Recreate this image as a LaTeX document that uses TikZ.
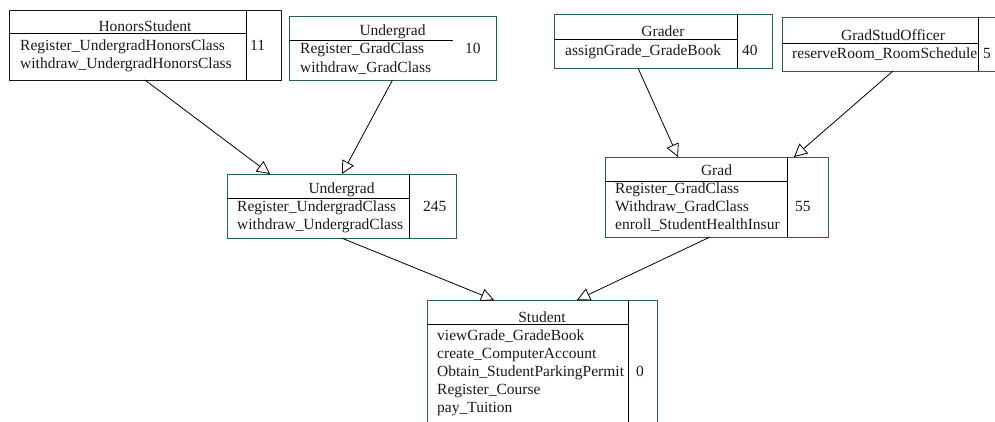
\documentclass[tikz,border=0pt]{standalone}
\usepackage{fontspec}
\setmainfont{Liberation Serif}
\usetikzlibrary{arrows.meta}
\definecolor{boxgreen}{RGB}{38,96,78}
\definecolor{ink}{RGB}{25,25,25}
\tikzset{
  cls/.style={draw=boxgreen, line width=0.9pt, rectangle, inner sep=0pt, outer sep=0pt},
  sep/.style={draw=black, line width=0.9pt},
  txt/.style={inner sep=0pt, anchor=base west, text=ink, font=\fontsize{15.5}{18}\selectfont},
  ttl/.style={txt, anchor=base},
  inh/.style={draw=black, line width=0.8pt, -{Triangle[open, length=13pt, width=13pt]}}
}
\begin{document}
\begin{tikzpicture}[x=1pt, y=-1pt]
\useasboundingbox (0,0) rectangle (995,421);
\clip (0,0) rectangle (995,421);

% HonorsStudent
\node[cls, draw=ink, minimum width=272pt, minimum height=70pt] (hs) at (145,45) {};
\draw[sep] (246,10) -- (246,80);
\draw[sep] (9,33) -- (246,33);
\node[ttl] (hst) at (145,31) {HonorsStudent};
\node[txt] (hs1) at (20,50) {Register\_UndergradHonorsClass};
\node[txt] (hs2) at (20,68) {withdraw\_UndergradHonorsClass};
\node[txt] (hsn) at (250,50) {11};

% Undergrad (top)
\node[cls, minimum width=207pt, minimum height=64pt] (ug) at (392.5,48) {};
\draw[sep] (289,40) -- (453,40);
\node[ttl] (ugt) at (392.5,35) {Undergrad};
\node[txt] (ug1) at (300,53) {Register\_GradClass};
\node[txt] (ug2) at (300,72) {withdraw\_GradClass};
\node[txt] (ugn) at (465,53) {10};

% Grader
\node[cls, minimum width=218pt, minimum height=54pt] (gr) at (663,41) {};
\draw[sep] (737,14) -- (737,68);
\draw[sep] (554,39) -- (737,39);
\node[ttl] (grt) at (663,36) {Grader};
\node[txt] (gr1) at (565,55) {assignGrade\_GradeBook};
\node[txt] (grn) at (742,55) {40};

% GradStudOfficer
\node[cls, minimum width=222pt, minimum height=54pt] (of) at (893,44) {};
\draw[sep] (978,17) -- (978,71);
\draw[sep] (782,43) -- (978,43);
\node[ttl] (oft) at (893,40) {GradStudOfficer};
\node[txt] (of1) at (792,58) {reserveRoom\_RoomSchedule};
\node[txt] (ofn) at (983,58) {5};

% Undergrad (middle)
\node[cls, minimum width=229pt, minimum height=64pt] (mu) at (341.5,206) {};
\draw[sep] (409,174) -- (409,238);
\draw[sep] (227,198) -- (409,198);
\node[ttl] (mut) at (341.5,193) {Undergrad};
\node[txt] (mu1) at (237,211) {Register\_UndergradClass};
\node[txt] (mu2) at (237,229) {withdraw\_UndergradClass};
\node[txt] (mun) at (423,211) {245};

% Grad
\node[cls, minimum width=223pt, minimum height=80pt] (gd) at (716.5,197) {};
\draw[sep] (787,157) -- (787,237);
\draw[sep] (605,181) -- (787,181);
\node[ttl] (gdt) at (716.5,175) {Grad};
\node[txt] (gd1) at (615,193) {Register\_GradClass};
\node[txt] (gd2) at (615,211) {Withdraw\_GradClass};
\node[txt] (gd3) at (615,229) {enroll\_StudentHealthInsur};
\node[txt] (gdn) at (795,211) {55};

% Student
\node[cls, minimum width=230pt, minimum height=140pt] (st) at (542,370) {};
\draw[sep] (628,300) -- (628,440);
\draw[sep] (427,324) -- (628,324);
\node[ttl] (stt) at (542,322) {Student};
\node[txt] (st1) at (437,340) {viewGrade\_GradeBook};
\node[txt] (st2) at (437,358) {create\_ComputerAccount};
\node[txt] (st3) at (437,376) {Obtain\_StudentParkingPermit};
\node[txt] (st4) at (437,394) {Register\_Course};
\node[txt] (st5) at (437,412) {pay\_Tuition};
\node[txt] (stn) at (636,376) {0};

% generalisation arrows
\draw[inh] (hs.south) -- ([xshift=-71.5pt]mu.north);
\draw[inh] (ug.south) -- ([xshift=0.5pt]mu.north);
\draw[inh] ([xshift=-25pt]gr.south) -- ([xshift=-38.5pt]gd.north);
\draw[inh] (of.south) -- ([xshift=77.5pt]gd.north);
\draw[inh] (mu.south) -- ([xshift=-48pt]st.north);
\draw[inh] ([xshift=-6.5pt]gd.south) -- ([xshift=35pt]st.north);
\end{tikzpicture}
\end{document}
